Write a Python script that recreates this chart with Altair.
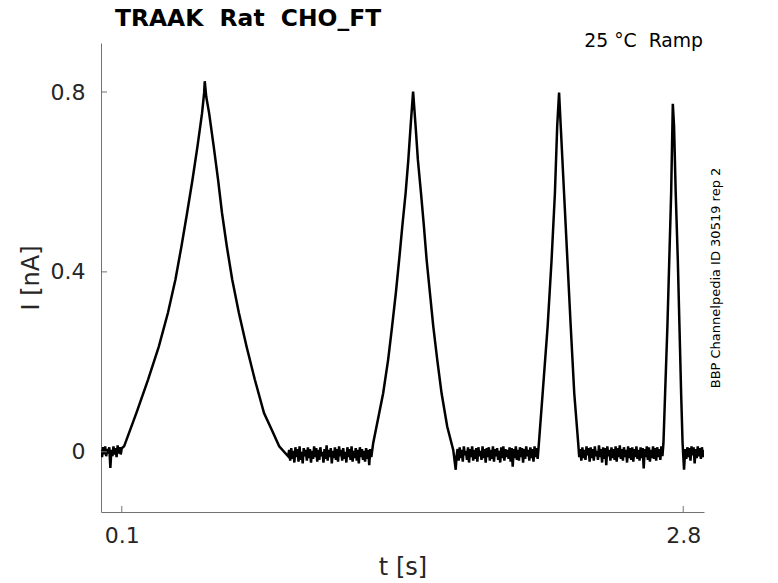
import altair as alt
import pandas as pd

# ---- trace values (t in s, I in nA) ----
base_a_t = [0.000, 0.005, 0.010, 0.015, 0.020, 0.025, 0.030, 0.035, 0.040, 0.045, 0.050, 0.055, 0.060, 0.065,
            0.070, 0.075, 0.080, 0.085, 0.090, 0.095, 0.100]
base_a_i = [0.004, -0.012, 0.010, -0.006, 0.012, -0.010, 0.006, -0.004, 0.010, -0.036, 0.004, -0.010, 0.012,
            -0.006, 0.008, -0.012, 0.014, -0.004, 0.010, -0.006, 0.008]

ramp1_t = [0.111, 0.170, 0.226, 0.278, 0.322, 0.358, 0.387, 0.414, 0.440, 0.464, 0.486, 0.496, 0.499, 0.506,
           0.520, 0.542, 0.563, 0.582, 0.605, 0.631, 0.663, 0.700, 0.740, 0.784, 0.820, 0.857, 0.900]
ramp1_i = [0.012, 0.086, 0.160, 0.234, 0.309, 0.383, 0.457, 0.531, 0.605, 0.679, 0.753, 0.798, 0.824, 0.790,
           0.753, 0.679, 0.605, 0.531, 0.457, 0.383, 0.309, 0.234, 0.160, 0.086, 0.050, 0.012, -0.010]

base_b_t = [0.905, 0.910, 0.915, 0.920, 0.925, 0.930, 0.935, 0.940, 0.945, 0.950,
            0.955, 0.960, 0.965, 0.970, 0.975, 0.980, 0.985, 0.990, 0.995, 1.000,
            1.005, 1.010, 1.015, 1.020, 1.025, 1.030, 1.035, 1.040, 1.045, 1.050,
            1.055, 1.060, 1.065, 1.070, 1.075, 1.080, 1.085, 1.090, 1.095, 1.100,
            1.105, 1.110, 1.115, 1.120, 1.125, 1.130, 1.135, 1.140, 1.145, 1.150,
            1.155, 1.160, 1.165, 1.170, 1.175, 1.180, 1.185, 1.190, 1.195, 1.200,
            1.205, 1.210, 1.215, 1.220, 1.225, 1.230, 1.235, 1.240, 1.245, 1.250,
            1.255, 1.260, 1.265, 1.270, 1.275, 1.280, 1.285, 1.290, 1.295, 1.300]
base_b_i = [0.004, -0.020, 0.008, -0.016, 0.002, -0.024, 0.010, -0.012, 0.006, -0.022,
            0.012, -0.018, 0.000, -0.026, 0.008, -0.010, 0.004, -0.020, 0.010, -0.014,
            0.006, -0.024, 0.002, -0.016, 0.012, -0.012, 0.008, -0.022, 0.004, -0.018,
            0.010, -0.010, 0.000, -0.024, 0.006, -0.016, 0.014, -0.020, 0.004, -0.012,
            0.008, -0.026, 0.002, -0.014, 0.010, -0.018, 0.006, -0.022, 0.012, -0.010,
            0.004, -0.020, 0.008, -0.016, 0.000, -0.024, 0.010, -0.012, 0.006, -0.018,
            0.012, -0.022, 0.002, -0.014, 0.008, -0.020, 0.004, -0.026, 0.010, -0.012,
            0.006, -0.018, 0.002, -0.022, 0.008, -0.016, 0.004, -0.030, 0.006, -0.012]

ramp2_t = [1.309, 1.357, 1.381, 1.400, 1.418, 1.434, 1.449, 1.465, 1.478, 1.489, 1.501, 1.513, 1.524, 1.539,
           1.553, 1.566, 1.582, 1.598, 1.617, 1.638, 1.665, 1.694, 1.706]
ramp2_i = [0.019, 0.130, 0.205, 0.279, 0.353, 0.427, 0.501, 0.575, 0.649, 0.724, 0.801, 0.724, 0.649, 0.575,
           0.501, 0.427, 0.353, 0.279, 0.205, 0.130, 0.056, 0.004, -0.040]

base_c_t = [1.710, 1.715, 1.720, 1.725, 1.730, 1.735, 1.740, 1.745, 1.750, 1.755,
            1.760, 1.765, 1.770, 1.775, 1.780, 1.785, 1.790, 1.795, 1.800, 1.805,
            1.810, 1.815, 1.820, 1.825, 1.830, 1.835, 1.840, 1.845, 1.850, 1.855,
            1.860, 1.865, 1.870, 1.875, 1.880, 1.885, 1.890, 1.895, 1.900, 1.905,
            1.910, 1.915, 1.920, 1.925, 1.930, 1.935, 1.940, 1.945, 1.950, 1.955,
            1.960, 1.965, 1.970, 1.975, 1.980, 1.985, 1.990, 1.995, 2.000, 2.005,
            2.010, 2.015, 2.020, 2.025, 2.030, 2.035, 2.040, 2.045, 2.050, 2.055,
            2.060, 2.065, 2.070, 2.075, 2.080, 2.085, 2.090, 2.095, 2.100]
base_c_i = [-0.010, 0.006, -0.020, 0.010, -0.014, 0.004, -0.022, 0.012, -0.008, 0.002,
            -0.018, 0.010, -0.024, 0.006, -0.012, 0.012, -0.020, 0.004, -0.016, 0.008,
            -0.022, 0.010, -0.010, 0.002, -0.018, 0.012, -0.014, 0.006, -0.024, 0.008,
            -0.012, 0.010, -0.020, 0.004, -0.016, 0.012, -0.022, 0.006, -0.010, 0.008,
            -0.018, 0.002, -0.024, 0.010, -0.014, 0.012, -0.020, 0.006, -0.012, 0.004,
            -0.016, 0.010, -0.022, 0.008, -0.033, 0.006, -0.014, 0.012, -0.018, 0.004,
            -0.020, 0.010, -0.012, 0.008, -0.024, 0.006, -0.016, 0.012, -0.010, 0.004,
            -0.020, 0.010, -0.014, 0.006, -0.022, 0.012, -0.012, 0.008, -0.016]

ramp3_t = [2.106, 2.124, 2.148, 2.167, 2.183, 2.194, 2.203, 2.211, 2.227, 2.243, 2.259, 2.276, 2.295]
ramp3_i = [0.019, 0.130, 0.279, 0.427, 0.575, 0.724, 0.799, 0.724, 0.575, 0.427, 0.279, 0.130, 0.019]

base_d_t = [2.300, 2.305, 2.310, 2.315, 2.320, 2.325, 2.330, 2.335, 2.340, 2.345,
            2.350, 2.355, 2.360, 2.365, 2.370, 2.375, 2.380, 2.385, 2.390, 2.395,
            2.400, 2.405, 2.410, 2.415, 2.420, 2.425, 2.430, 2.435, 2.440, 2.445,
            2.450, 2.455, 2.460, 2.465, 2.470, 2.475, 2.480, 2.485, 2.490, 2.495,
            2.500, 2.505, 2.510, 2.515, 2.520, 2.525, 2.530, 2.535, 2.540, 2.545,
            2.550, 2.555, 2.560, 2.565, 2.570, 2.575, 2.580, 2.585, 2.590, 2.595,
            2.600, 2.605, 2.610, 2.615, 2.620, 2.625, 2.630, 2.635, 2.640, 2.645,
            2.650, 2.655, 2.660, 2.665, 2.670, 2.675, 2.680, 2.685, 2.690, 2.695,
            2.700]
base_d_i = [-0.012, 0.006, -0.020, 0.010, -0.014, 0.004, -0.018, 0.012, -0.008, 0.008,
            -0.022, 0.010, -0.014, 0.006, -0.020, 0.012, -0.010, 0.002, -0.018, 0.014,
            -0.012, 0.006, -0.024, 0.010, -0.016, 0.008, -0.030, 0.012, -0.010, 0.004,
            -0.020, 0.010, -0.014, 0.006, -0.018, 0.012, -0.022, 0.008, -0.012, 0.014,
            -0.016, 0.006, -0.020, 0.010, -0.012, 0.004, -0.024, 0.012, -0.014, 0.008,
            -0.018, 0.010, -0.022, 0.006, -0.012, 0.012, -0.016, 0.004, -0.020, 0.010,
            -0.014, 0.008, -0.037, 0.006, -0.012, 0.012, -0.018, 0.010, -0.022, 0.004,
            -0.014, 0.012, -0.016, 0.008, -0.020, 0.010, -0.012, 0.006, -0.018, 0.012,
            -0.010]

ramp4_t = [2.705, 2.713, 2.724, 2.733, 2.742, 2.748, 2.750, 2.756, 2.764, 2.774, 2.782, 2.790, 2.797, 2.804]
ramp4_i = [0.019, 0.130, 0.279, 0.427, 0.575, 0.724, 0.774, 0.724, 0.575, 0.427, 0.279, 0.130, 0.019, -0.040]

base_e_t = [2.810, 2.815, 2.820, 2.825, 2.830, 2.835, 2.840, 2.845, 2.850, 2.855,
            2.860, 2.865, 2.870, 2.875, 2.880, 2.885, 2.890, 2.895, 2.900]
base_e_i = [0.006, -0.016, 0.010, -0.012, 0.008, -0.020, 0.012, -0.008, 0.010, -0.026,
            0.006, -0.014, 0.012, -0.010, 0.008, -0.016, 0.010, -0.012, 0.004]

x_ticks = [0.1, 2.8]
y_ticks = [0.0, 0.4, 0.8]

NB = "\u00a0"
title_text = "TRAAK" + NB + NB + "Rat" + NB + NB + "CHO_FT"
cond_text = "25 °C" + NB + NB + "Ramp"
side_text = "BBP Channelpedia ID 30519 rep 2"

# ---- build table ----
segs = [(base_a_t, base_a_i), (ramp1_t, ramp1_i), (base_b_t, base_b_i), (ramp2_t, ramp2_i),
        (base_c_t, base_c_i), (ramp3_t, ramp3_i), (base_d_t, base_d_i), (ramp4_t, ramp4_i),
        (base_e_t, base_e_i)]
rows = []
for ts, vs in segs:
    for t, v in zip(ts, vs):
        rows.append({"t": t, "I": v})
df = pd.DataFrame(rows)

FONT = "DejaVu Sans"
AX = "#737373"
W, H = 603, 469

xscale = alt.Scale(domain=[0, 2.9], nice=False, zero=False)
yscale = alt.Scale(domain=[-0.134, 0.909], nice=False, zero=False)

xaxis = alt.Axis(values=x_ticks, format=".1~f", title="t [s]", titleX=W / 2, titleY=62,
                 titleBaseline="alphabetic", titleAlign="center", labelPadding=13)
yaxis = alt.Axis(values=y_ticks, format=".1~f", title="I [nA]", titleX=-63, titleY=H / 2,
                 titleAngle=270, titleAlign="center", titleBaseline="alphabetic", labelPadding=16)

line = alt.Chart(df).mark_line(color="black", strokeWidth=2.5, clip=True).encode(
    x=alt.X("t:Q", scale=xscale, axis=xaxis),
    y=alt.Y("I:Q", scale=yscale, axis=yaxis),
    order="t:Q",
)

xt = alt.Chart(pd.DataFrame({"t": x_ticks})).mark_rule(color=AX, strokeWidth=1).encode(
    x=alt.X("t:Q", scale=xscale, axis=xaxis), y=alt.value(H), y2=alt.value(H - 6))
yt = alt.Chart(pd.DataFrame({"I": y_ticks})).mark_rule(color=AX, strokeWidth=1).encode(
    y=alt.Y("I:Q", scale=yscale, axis=yaxis), x=alt.value(0), x2=alt.value(6))

title = alt.Chart(pd.DataFrame({"s": [title_text]})).mark_text(
    font=FONT, fontSize=23.4, fontWeight="bold", align="left", baseline="alphabetic", color="black"
).encode(x=alt.value(14), y=alt.value(-17), text="s:N")

cond = alt.Chart(pd.DataFrame({"s": [cond_text]})).mark_text(
    font=FONT, fontSize=18.8, align="right", baseline="alphabetic", color="black"
).encode(x=alt.value(602), y=alt.value(4), text="s:N")

side = alt.Chart(pd.DataFrame({"s": [side_text]})).mark_text(
    font=FONT, fontSize=13, align="center", baseline="middle", angle=270, color="black"
).encode(x=alt.value(615), y=alt.value(235), text="s:N")

chart = alt.layer(line, xt, yt, title, cond, side).properties(
    width=W, height=H, autosize="none",
    padding={"left": 93, "top": 35, "right": 66, "bottom": 72},
).configure_view(stroke=None).configure_axis(
    domainColor=AX, domainWidth=1, ticks=False, tickSize=0, grid=False,
    labelFont=FONT, labelFontSize=22, labelColor="#262626",
    titleFont=FONT, titleFontSize=24, titleFontWeight="normal", titleColor="#262626",
)

chart.save("out.html", embed_options={"renderer": "svg", "actions": False})
